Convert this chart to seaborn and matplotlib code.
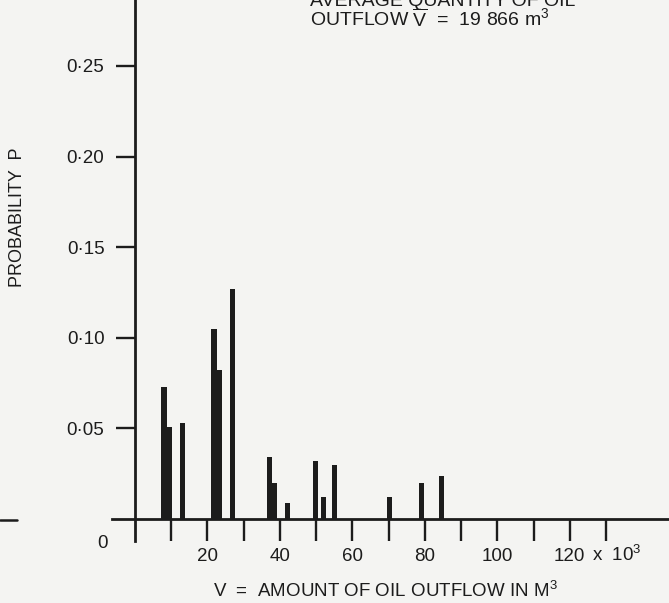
import matplotlib
matplotlib.use("Agg")
import matplotlib.pyplot as plt
import seaborn as sns
import pandas as pd
from matplotlib.lines import Line2D

# ---- data ----
volume_k = [8.0, 9.4, 13.2, 21.8, 23.3, 26.8, 37.0, 38.4, 42.2, 49.7, 52.1, 55.1, 70.3, 79.1, 84.5]
probability = [0.073, 0.051, 0.053, 0.105, 0.082, 0.127, 0.034, 0.020, 0.009,
               0.032, 0.012, 0.030, 0.012, 0.020, 0.024]
x_ticks = [10, 20, 30, 40, 50, 60, 70, 80, 90, 100, 110, 120, 130]
x_tick_labels = ["", "20", "", "40", "", "60", "", "80", "", "100", "", "120", ""]
y_ticks = [0.05, 0.10, 0.15, 0.20, 0.25]
y_tick_labels = ["0·05", "0·10", "0·15", "0·20", "0·25"]

df = pd.DataFrame({"V": volume_k, "P": probability})

sns.set_style("white")
plt.rcParams["font.family"] = ["Liberation Sans", "DejaVu Sans"]
bg = "#f4f4f2"
ink = "#1c1c1c"
fs = 13.5

W, H = 669, 603
fig = plt.figure(figsize=(W / 100, H / 100), dpi=100, facecolor=bg)
ax = fig.add_axes([112 / W, 62 / H, 1 - 112 / W, 1 - 62 / H])
ax.set_facecolor(bg)

sns.barplot(data=df, x="V", y="P", native_scale=True, width=1.0,
            color=ink, saturation=1, errorbar=None, ax=ax, linewidth=0)

px_per_k = 3.623
ax.set_xlim((112 - 135) / px_per_k, (669 - 135) / px_per_k)
px_per_p = 1812.0
ax.set_ylim(-(541 - 519) / px_per_p, 519 / px_per_p)

for s in ["top", "right"]:
    ax.spines[s].set_visible(False)
ax.spines["left"].set_position(("data", 0))
ax.spines["bottom"].set_position(("data", 0))
for s in ["left", "bottom"]:
    ax.spines[s].set_color(ink)
    ax.spines[s].set_linewidth(2.0)

ax.set_xticks(x_ticks)
ax.set_xticklabels(x_tick_labels)
ax.set_yticks(y_ticks)
ax.set_yticklabels(y_tick_labels)
ax.tick_params(axis="x", direction="out", length=16, width=1.7, color=ink,
               pad=5, labelsize=fs, labelcolor=ink, bottom=True)
ax.tick_params(axis="y", direction="out", length=14, width=1.7, color=ink,
               pad=8, labelsize=fs, labelcolor=ink, left=True)
ax.set_xlabel("")
ax.set_ylabel("")

# "0" origin label and "x 10^3" multiplier
fig.text(103 / W, 1 - 544 / H, "0", ha="center", va="center", fontsize=fs, color=ink)
fig.text(592 / W, 1 - 555 / H, r"x  10$^{\mathregular{3}}$", ha="left", va="center",
         fontsize=fs, color=ink)

fig.text(385 / W, 1 - 591 / H, r"V  =  AMOUNT OF OIL OUTFLOW IN M$^{\mathregular{3}}$",
         ha="center", va="center", fontsize=fs, color=ink)
fig.text(18 / W, 1 - 217 / H, "PROBABILITY  P", rotation=90, ha="center", va="center",
         fontsize=13, color=ink)

fig.text(310 / W, 1 - 1 / H, "AVERAGE QUANTITY OF OIL", ha="left", va="center",
         fontsize=14, color=ink)
fig.text(310 / W, 1 - 19 / H, r"OUTFLOW $\overline{\mathregular{V}}$  =  19 866 m$^{\mathregular{3}}$",
         ha="left", va="center", fontsize=14, color=ink)

# stray scan fragment at left edge
fig.add_artist(Line2D([0, 17 / W], [1 - 520 / H, 1 - 520 / H], color=ink, linewidth=1.8,
                      transform=fig.transFigure))

fig.savefig("out.png", dpi=100, facecolor=bg)
